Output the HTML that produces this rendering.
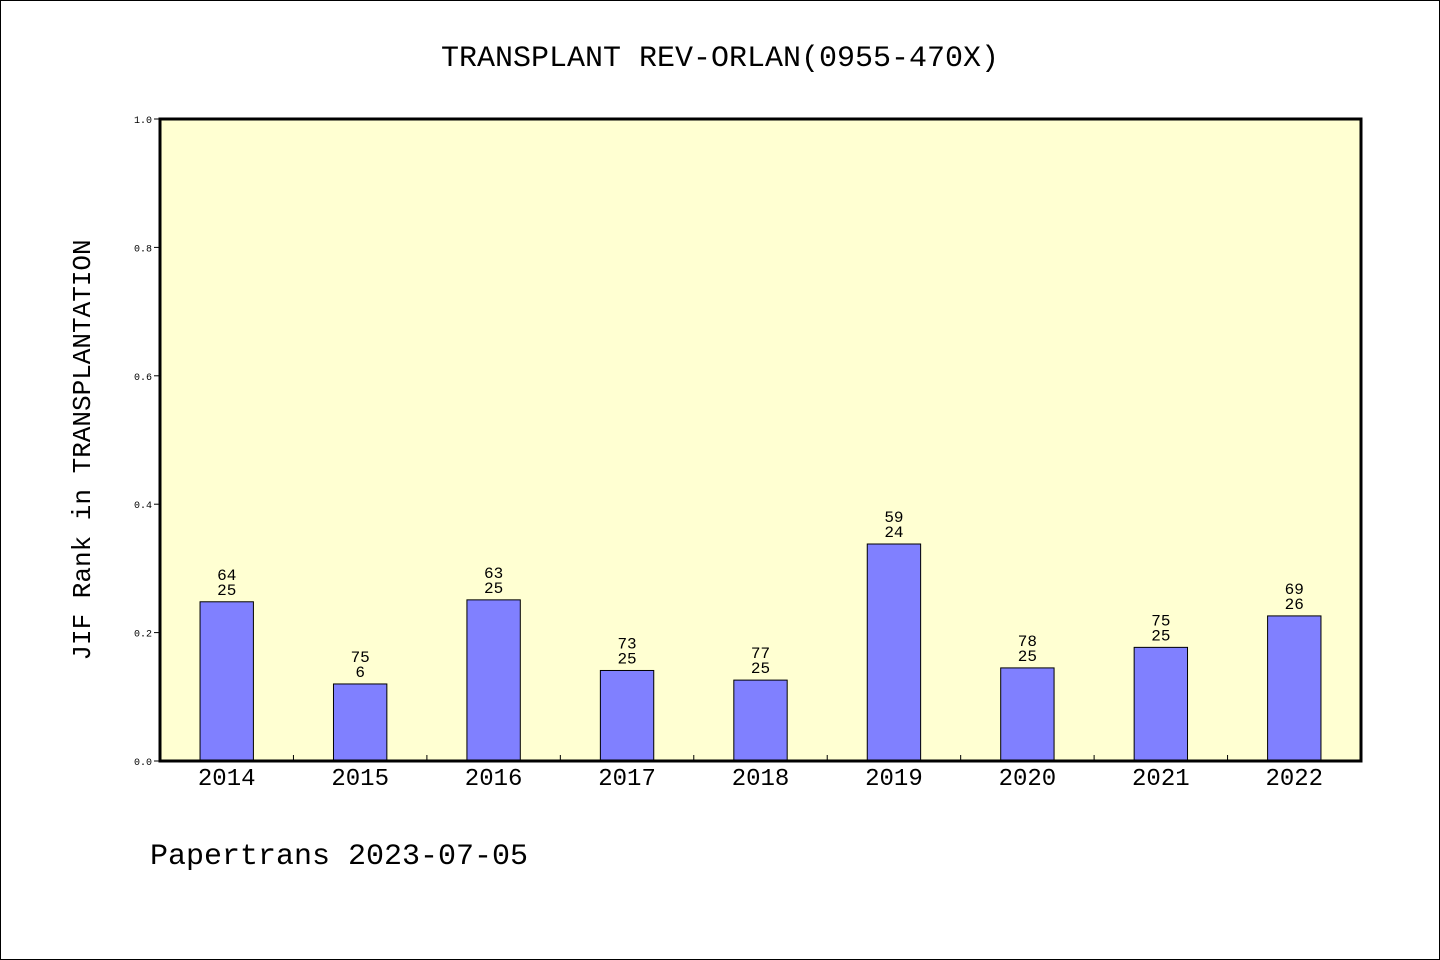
<!DOCTYPE html>
<html><head><meta charset="utf-8">
<style>
html,body{margin:0;padding:0;background:#fff;}
svg{display:block;font-family:"Liberation Mono","WenQuanYi Zen Hei",monospace;}
</style></head>
<body>
<svg id="chart" width="1440" height="960" xmlns="http://www.w3.org/2000/svg">
<rect x="0.5" y="0.5" width="1439" height="959" fill="#fff" stroke="#000"/>
<text x="720" y="66" text-anchor="middle" font-size="30">TRANSPLANT REV-ORLAN(0955-470X)</text>
<rect x="160" y="119" width="1201" height="642" fill="#ffffd2"/>
<g id="ylab"></g>
<g id="bars"></g>
<rect x="160" y="119" width="1201" height="642" fill="none" stroke="#000" stroke-width="3"/>
<text transform="translate(90,450) rotate(-90)" text-anchor="middle" font-size="26">JIF Rank in TRANSPLANTATION</text>
<text x="150" y="864" font-size="30">Papertrans 2023-07-05</text>
</svg>
<script>
const categories=["2014","2015","2016","2017","2018","2019","2020","2021","2022"];
const values=[0.248,0.12,0.251,0.141,0.126,0.338,0.145,0.177,0.226];
const topLabels=["64","75","63","73","77","59","78","75","69"];
const bottomLabels=["25","6","25","25","25","24","25","25","26"];
const yTicks=[0,0.2,0.4,0.6,0.8,1.0];
const yTickLabels=["0.0","0.2","0.4","0.6","0.8","1.0"];
const NS="http://www.w3.org/2000/svg";
const L=160,R=1361,T=119,B=761;
const band=(R-L)/categories.length;
const x=i=>L+band*(i+0.5);
const y=v=>B-(B-T)*v;
function mk(tag,attrs,parent,txt){const e=document.createElementNS(NS,tag);for(const k in attrs)e.setAttribute(k,attrs[k]);if(txt!==undefined)e.textContent=txt;parent.appendChild(e);return e;}
const gy=document.getElementById('ylab'),gb=document.getElementById('bars');
yTicks.forEach((t,i)=>{
 const ln=mk('line',{x1:L-6,x2:L,y1:y(t),y2:y(t),stroke:'#000'},gy);
 
 
 const tx=mk('text',{x:L-8,y:y(t)+4,'text-anchor':'end','font-size':10},gy,yTickLabels[i]);
 
 
});
for(let i=1;i<categories.length;i++){
 const ln=mk('line',{x1:L+band*i,x2:L+band*i,y1:B,y2:B-6,stroke:'#000'},gb);
 
 
}
const bw=band*0.4;
categories.forEach((c,i)=>{
 const r=mk('rect',{x:x(i)-bw/2,y:y(values[i]),width:bw,height:B-y(values[i]),fill:'#8080ff',stroke:'#000','stroke-width':1},gb);
 
 
 const t1=mk('text',{x:x(i),y:y(values[i])-22,'text-anchor':'middle','font-size':16},gb,topLabels[i]);
 
 
 const t2=mk('text',{x:x(i),y:y(values[i])-7,'text-anchor':'middle','font-size':16},gb,bottomLabels[i]);
 
 
 const xl=mk('text',{x:x(i),y:B+24,'text-anchor':'middle','font-size':24},gb,c);
 
 
});
</script>
</body></html>
